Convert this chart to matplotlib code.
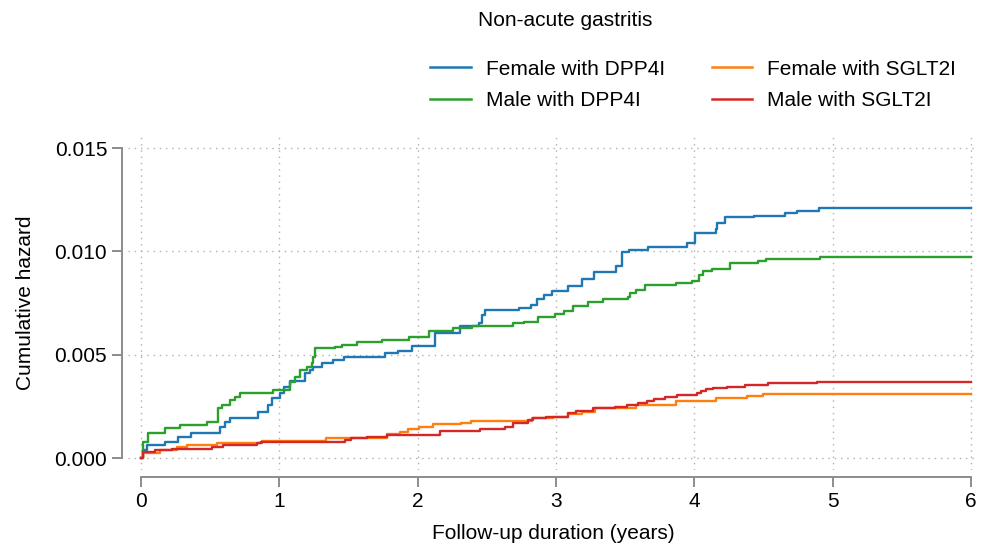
import matplotlib
matplotlib.use("Agg")
import matplotlib.pyplot as plt

plt.rcParams['font.family'] = ['Liberation Sans', 'DejaVu Sans']

title = "Non-acute gastritis"
xlabel = "Follow-up duration (years)"
ylabel = "Cumulative hazard"
xticks = [0, 1, 2, 3, 4, 5, 6]
yticks = [0.000, 0.005, 0.010, 0.015]
ytick_labels = ["0.000", "0.005", "0.010", "0.015"]

labels = ["Female with DPP4I", "Male with DPP4I", "Female with SGLT2I", "Male with SGLT2I"]
colors = ["#1f77b4", "#2ca02c", "#ff7f0e", "#d62728"]

# Female with DPP4I
f_dpp_t = [0, 0.017, 0.041, 0.173, 0.268, 0.364, 0.571, 0.607, 0.643, 0.848, 0.92, 0.945,
           1.005, 1.03, 1.077, 1.185, 1.222, 1.246, 1.306, 1.39, 1.47, 1.764, 1.86, 1.956,
           2.125, 2.306, 2.44, 2.463, 2.487, 2.73, 2.82, 2.86, 2.91, 2.97, 3.09, 3.186,
           3.275, 3.434, 3.475, 3.53, 3.668, 3.944, 4.005, 4.157, 4.166, 4.22, 4.43,
           4.655, 4.74, 4.90, 6.0]
f_dpp_h = [0, 0.00039, 0.00063, 0.00079, 0.0010, 0.0012, 0.00151, 0.00176, 0.00192, 0.00224,
           0.00256, 0.00289, 0.00313, 0.00345, 0.00374, 0.0041, 0.00426, 0.00442, 0.00461,
           0.00474, 0.00487, 0.0051, 0.00519, 0.00543, 0.00606, 0.00639, 0.00652, 0.00692,
           0.00716, 0.00727, 0.0074, 0.00768, 0.00789, 0.0081, 0.00832, 0.00865, 0.00901,
           0.00929, 0.00998, 0.01006, 0.0102, 0.01042, 0.01087, 0.01106, 0.01139, 0.01165,
           0.01172, 0.01184, 0.01195, 0.01208, 0.01208]

# Male with DPP4I
m_dpp_t = [0, 0.012, 0.053, 0.173, 0.28, 0.475, 0.559, 0.583, 0.643, 0.68, 0.716, 0.957,
           1.077, 1.113, 1.149, 1.198, 1.234, 1.246, 1.26, 1.40, 1.45, 1.56, 1.74, 1.94,
           2.085, 2.258, 2.39, 2.69, 2.77, 2.87, 2.99, 3.058, 3.125, 3.23, 3.34, 3.518,
           3.535, 3.58, 3.64, 3.87, 3.98, 4.035, 4.065, 4.125, 4.258, 4.46, 4.52, 4.91, 6.0]
m_dpp_h = [0, 0.00079, 0.00121, 0.00144, 0.0016, 0.00176, 0.0024, 0.00256, 0.0028, 0.00297,
           0.00316, 0.00329, 0.00369, 0.00393, 0.00426, 0.00442, 0.00461, 0.0049, 0.0053,
           0.00539, 0.00547, 0.00563, 0.00571, 0.00584, 0.00616, 0.00627, 0.00639, 0.00652,
           0.0066, 0.00684, 0.00697, 0.00711, 0.00735, 0.00756, 0.00768, 0.0078, 0.00797,
           0.00813, 0.00835, 0.00845, 0.00856, 0.00885, 0.00906, 0.00913, 0.00942, 0.00952,
           0.00963, 0.00971, 0.00971]

# Female with SGLT2I
f_sglt_t = [0, 0.012, 0.137, 0.258, 0.33, 0.547, 0.872, 1.34, 1.776, 1.87, 1.93, 2.01,
            2.113, 2.313, 2.383, 2.824, 2.98, 3.09, 3.186, 3.28, 3.58, 3.87, 4.157, 4.378,
            4.494, 6.0]
f_sglt_h = [0, 0.00026, 0.00039, 0.00055, 0.00063, 0.00074, 0.00084, 0.00095, 0.00116,
            0.00127, 0.00139, 0.00152, 0.00163, 0.00171, 0.0018, 0.00192, 0.002, 0.00211,
            0.00224, 0.0024, 0.00257, 0.00275, 0.00288, 0.003, 0.00312, 0.00312]

# Male with SGLT2I
m_sglt_t = [0, 0.012, 0.1, 0.222, 0.51, 0.595, 0.836, 0.87, 1.475, 1.516, 1.63, 1.78,
            2.162, 2.45, 2.63, 2.686, 2.8, 2.83, 2.93, 3.09, 3.145, 3.27, 3.427, 3.51,
            3.595, 3.66, 3.71, 3.788, 3.873, 4.017, 4.05, 4.084, 4.133, 4.238, 4.366,
            4.535, 4.885, 6.0]
m_sglt_h = [0, 0.0003, 0.00039, 0.00045, 0.00052, 0.00063, 0.00071, 0.00079, 0.00087,
            0.00095, 0.00103, 0.00111, 0.00129, 0.00139, 0.00152, 0.00171, 0.00185, 0.00192,
            0.002, 0.00216, 0.00227, 0.0024, 0.00245, 0.00256, 0.00268, 0.00277, 0.00284,
            0.00294, 0.00305, 0.00316, 0.00326, 0.00332, 0.00337, 0.00345, 0.00353, 0.00361,
            0.00369, 0.00369]

series = [(f_dpp_t, f_dpp_h), (m_dpp_t, m_dpp_h), (f_sglt_t, f_sglt_h), (m_sglt_t, m_sglt_h)]

W, H = 981, 554
FS = 15
fig = plt.figure(figsize=(W / 100, H / 100), dpi=100)
ax = fig.add_axes([128 / W, 1 - 470 / H, (978 - 128) / W, (470 - 135) / H])

handles = []
for (t, h), c, lab in zip(series, colors, labels):
    ln, = ax.step(t, h, where='post', color=c, lw=1.7, label=lab)
    handles.append(ln)

ax.set_xlim(-0.094, 6.05)
ax.set_ylim(-0.00058, 0.01563)
ax.set_xticks(xticks)
ax.set_yticks(yticks)
ax.set_yticklabels(ytick_labels)
ax.grid(True, linestyle=(0, (1, 3.5)), color="#b0b0b0", lw=1.0)
ax.set_axisbelow(True)

for s in ["top", "right"]:
    ax.spines[s].set_visible(False)
spine_col = "#8c8c8c"
ax.spines["left"].set_position(("outward", 4))
ax.spines["left"].set_bounds(0, 0.015)
ax.spines["bottom"].set_position(("outward", 5))
ax.spines["bottom"].set_bounds(0, 6)
for s in ["left", "bottom"]:
    ax.spines[s].set_color(spine_col)
    ax.spines[s].set_linewidth(1.4)
ax.tick_params(axis="both", direction="out", length=7, width=1.4, color=spine_col,
               labelsize=FS, labelcolor="black", pad=4)

ax.set_xlabel(xlabel, fontsize=FS, labelpad=9)
ax.set_ylabel(ylabel, fontsize=FS, labelpad=14)

fig.text(565 / W, 1 - 20 / H, title, ha="center", va="center", fontsize=FS)

leg = fig.legend(handles, labels,
                 ncol=2, loc="center", bbox_to_anchor=(693 / W, 1 - 85 / H),
                 frameon=False, fontsize=FS, handlelength=1.95, handletextpad=0.72,
                 columnspacing=2.25, labelspacing=0.62)
for l in leg.get_lines():
    l.set_linewidth(1.8)

fig.savefig("out.png", dpi=100)
